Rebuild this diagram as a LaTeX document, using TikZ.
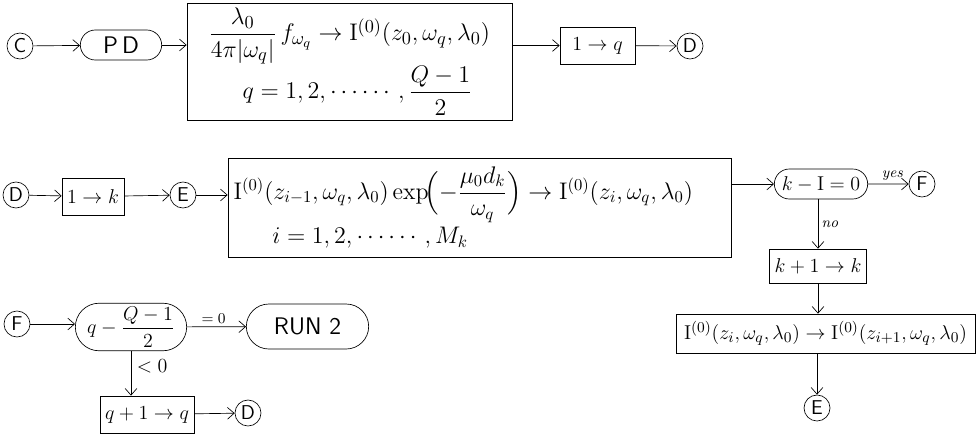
\documentclass[tikz,border=0pt]{standalone}
\usepackage{amsmath,amssymb}
\usetikzlibrary{arrows.meta,shapes.misc}

\begin{document}
\begin{tikzpicture}[
  x=0.6pt, y=-0.6pt,
  >={Straight Barb[length=4pt,width=7pt]},
  every node/.style={font=\large},
  conn/.style={circle, draw, inner sep=0pt, minimum size=15.6pt, font=\sffamily\large},
  proc/.style={draw, align=left, inner sep=3pt},
  term/.style={rounded rectangle, draw, inner sep=2pt},
  lbl/.style={font=\itshape\small, inner sep=2pt}
]
\useasboundingbox (0,0) rectangle (978,434);
% first line
\node[conn] (c) at (20,46) {C};
\node[term, minimum width=52.8pt, minimum height=18pt, font=\sffamily\Large] (pd) at (121,45) {P\,D};
\node[proc, minimum width=195pt, minimum height=67.8pt, font=\fontsize{15.5}{18}\selectfont] (init) at (349.5,61.5)
  {$\dfrac{\lambda_0}{4\pi|\omega_q|}\,f_{\omega_q}\rightarrow\mathrm{I}^{(0)}(z_0,\omega_q,\lambda_0)$\\[0pt]
   \hspace*{1.3em}$q=1,2,\cdots\cdots,\dfrac{Q-1}{2}$};
\node[proc, minimum width=45pt, minimum height=22pt, align=center] (q1) at (597.5,45.5) {$1\rightarrow q$};
\node[conn] (d1) at (690,46) {D};
\draw[->] (c) -- (pd);
\draw[->] (pd.east) -- (pd.east -| init.west);
\draw[->] (init.east |- q1.west) -- (q1.west);
\draw[->] (q1) -- (d1);
% second line
\node[conn] (d2) at (16,195) {D};
\node[proc, minimum width=37.2pt, minimum height=22.2pt, align=center] (k1) at (93,196.5) {$1\rightarrow k$};
\node[conn] (e1) at (183,195) {E};
\node[proc, minimum width=301.8pt, minimum height=59.4pt, text width=295pt, font=\fontsize{14.5}{17}\selectfont] (atten) at (479.5,207.5)
  {$\mathrm{I}^{(0)}(z_{i-1},\omega_q,\lambda_0)\exp\!\Bigl(-\dfrac{\mu_0 d_k}{\omega_q}\Bigr)\rightarrow\mathrm{I}^{(0)}(z_i,\omega_q,\lambda_0)$\\[2pt]
   \hspace*{1.6em}$i=1,2,\cdots\cdots,M_k$};
\node[term, minimum width=60pt, minimum height=18pt] (kdec) at (821,184) {$k-\mathrm{I}=0$};
\node[conn] (f1) at (922,184) {F};
\node[proc, minimum width=43pt, minimum height=20.4pt, align=center] (kk) at (818,266) {$k+1\rightarrow k$};
\node[proc, minimum width=179.4pt, minimum height=23.4pt, align=center, font=\fontsize{13}{15}\selectfont] (shift) at (825.5,333.5)
  {$\mathrm{I}^{(0)}(z_i,\omega_q,\lambda_0)\rightarrow\mathrm{I}^{(0)}(z_{i+1},\omega_q,\lambda_0)$};
\node[conn] (e2) at (817,408) {E};
\draw[->] (d2) -- (k1);
\draw[->] (k1) -- (e1);
\draw[->] (e1) -- (e1 -| atten.west);
\draw[->] (atten.east |- kdec.west) -- (kdec.west);
\draw[->] (kdec) -- node[lbl, above, pos=0.6] {yes} (f1);
\draw[->] (kdec.south -| kk.north) -- node[lbl, right] {no} (kk.north);
\draw[->] (kk.south) -- (kk.south |- shift.north);
\draw[->] (shift.south -| e2) -- (e2);
% third line
\node[conn] (f2) at (17,324) {F};
\node[term, minimum width=70.8pt, minimum height=28pt] (qdec) at (131,327) {$q-\dfrac{Q-1}{2}$};
\node[term, minimum width=77.4pt, minimum height=27pt, font=\sffamily\Large] (run) at (307.5,326.5) {RUN 2};
\node[proc, minimum width=55.2pt, minimum height=22.2pt, align=center] (qq) at (147,414.5) {$q+1\rightarrow q$};
\node[conn] (d3) at (248,413) {D};
\draw[->] (f2) -- (f2 -| qdec.west);
\draw[->] (qdec) -- node[lbl, above, pos=0.45, font=\small] {$=0$} (run);
\draw[->] (qdec.south) -- node[right, pos=0.35] {$<0$} (qdec.south |- qq.north);
\draw[->] (qq) -- (d3);
\end{tikzpicture}
\end{document}
